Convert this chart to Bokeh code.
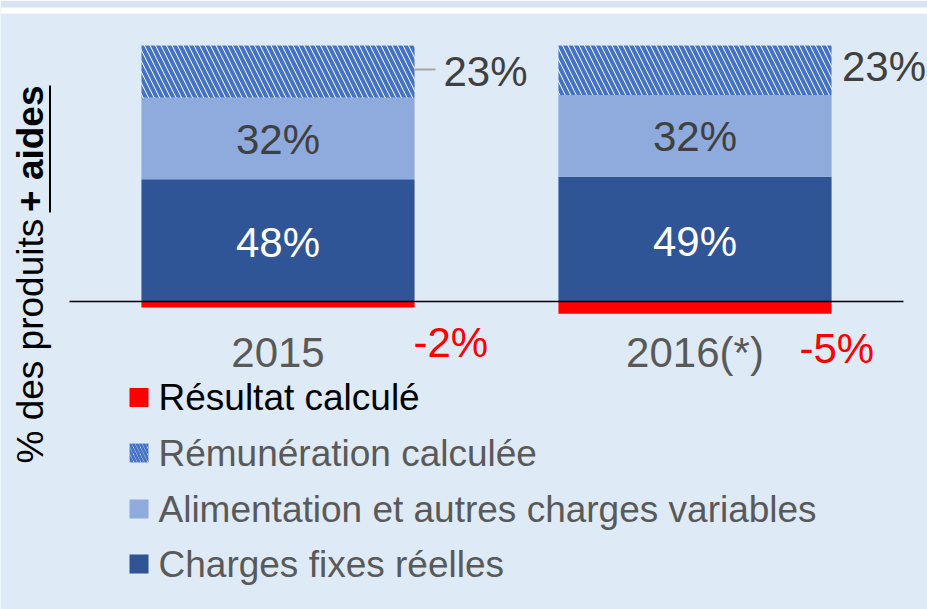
import math
from bokeh.plotting import figure
from bokeh.models import Range1d, ColumnDataSource
from bokeh.core.properties import value
from bokeh.embed import file_html
from bokeh.resources import INLINE

# ---------------- data ----------------
categories = ["2015", "2016(*)"]
charges_fixes = [48, 49]          # Charges fixes réelles
alimentation = [32, 32]           # Alimentation et autres charges variables
remuneration = [23, 23]           # Rémunération calculée
resultat = [-2.4, -4.8]           # Résultat calculé
legend_labels = ["Résultat calculé", "Rémunération calculée",
                 "Alimentation et autres charges variables", "Charges fixes réelles"]
y_title_parts = ["% des produits", "+ aides"]
AXIS_MAX = 100.5                  # value axis maximum (bars are clipped there)

# ---------------- layout / style ----------------
W, H = 927, 609
TOP = 7
PX_PCT = 2.548
ZERO_PX = 301
CAT_PX = 417
LEFT_PX = 69
BAR_W = 0.655
FONT = value("Liberation Sans")
BG = "#DEEAF6"
STRIP = "#D9E3F3"
DARK = "#2F5597"
LIGHT = "#8FAADC"
HATCH = "#4472C4"
RED = "#FF0000"
GRAY = "#595959"
DGRAY = "#404040"


def xd(px):
    return (px - LEFT_PX) / CAT_PX


def yd(py):
    return (ZERO_PX - py) / PX_PCT


p = figure(width=W, height=H, output_backend="svg", toolbar_location=None,
           x_range=Range1d(xd(0), xd(W)), y_range=Range1d(yd(H), yd(TOP)),
           x_axis_type=None, y_axis_type=None,
           min_border_left=0, min_border_right=0, min_border_bottom=0, min_border_top=TOP)
p.grid.visible = False
p.outline_line_color = None
p.background_fill_color = BG
p.border_fill_color = STRIP

# white separator strip below the top band
p.quad(left=[xd(0)], right=[xd(W)], bottom=[yd(13)], top=[yd(TOP)],
       fill_color="white", line_color=None)

xs = [i + 0.5 for i in range(len(categories))]
b1 = [0] * len(xs)
t1 = [a + b for a, b in zip(b1, charges_fixes)]
t2 = [a + b for a, b in zip(t1, alimentation)]
t3 = [a + b for a, b in zip(t2, remuneration)]
t3c = [min(v, AXIS_MAX) for v in t3]

p.vbar(x=xs, width=BAR_W, bottom=b1, top=t1, fill_color=DARK, line_color=None)
p.vbar(x=xs, width=BAR_W, bottom=t1, top=t2, fill_color=LIGHT, line_color=None)
p.vbar(x=xs, width=BAR_W, bottom=t2, top=t3c, fill_color="white", line_color=None,
       hatch_pattern="\\", hatch_color=HATCH, hatch_scale=11, hatch_weight=4)
p.vbar(x=xs, width=BAR_W, bottom=b1, top=resultat, fill_color=RED, line_color=None)

# category axis line at zero
p.segment(x0=[0], y0=[0], x1=[len(categories)], y1=[0], line_color="black", line_width=1.6)

# inside labels
mid1 = [(a + b) / 2 for a, b in zip(b1, t1)]
mid2 = [(a + b) / 2 for a, b in zip(t1, t2)]
p.text(x=xs, y=mid1, text=[f"{v:.0f}%" for v in charges_fixes], text_align="center",
       text_baseline="middle", y_offset=2, text_font=FONT, text_font_size="42px",
       text_color="white")
p.text(x=xs, y=mid2, text=[f"{v:.0f}%" for v in alimentation], text_align="center",
       text_baseline="middle", y_offset=1, text_font=FONT, text_font_size="42px",
       text_color=DGRAY)

# top labels (rémunération)
top_src = ColumnDataSource(dict(x=xs, y=t3c, text=[f"{v:.0f}%" for v in remuneration],
                                dx=[165.5, 147], dy=[26, 21]))
p.text(x="x", y="y", text="text", x_offset="dx", y_offset="dy", source=top_src,
       text_align="left", text_baseline="middle", text_font=FONT,
       text_font_size="42px", text_color=DGRAY)
# leader line for first label
lx0 = xs[0] + BAR_W / 2
p.segment(x0=[lx0], y0=[yd(69)], x1=[lx0 + 21 / CAT_PX], y1=[yd(69)],
          line_color="#A6A6A6", line_width=2)

# result labels
res_src = ColumnDataSource(dict(x=xs, y=resultat, text=[f"{round(v)}%" for v in resultat],
                                dx=[135.5, 104.5], dy=[34.5, 34.5]))
p.text(x="x", y="y", text="text", x_offset="dx", y_offset="dy", source=res_src,
       text_align="left", text_baseline="middle", text_font=FONT,
       text_font_size="42px", text_color=RED)

# category labels
p.text(x=xs, y=[0] * len(xs), text=categories, y_offset=50.5, text_align="center",
       text_baseline="middle", text_font=FONT, text_font_size="42px", text_color=GRAY)

# legend (manual)
rows_px = [397, 452.5, 508.5, 563.5]
lg_y = [yd(r) for r in rows_px]
sq_x = xd(138.5)
p.scatter(x=[sq_x], y=[lg_y[0]], marker="square", size=19, fill_color=RED, line_color=None)
p.scatter(x=[sq_x], y=[lg_y[1]], marker="square", size=19, fill_color="white", line_color=None,
          hatch_pattern="\\", hatch_color=HATCH, hatch_scale=7, hatch_weight=2.8)
p.scatter(x=[sq_x], y=[lg_y[2]], marker="square", size=19, fill_color=LIGHT, line_color=None)
p.scatter(x=[sq_x], y=[lg_y[3]], marker="square", size=19, fill_color=DARK, line_color=None)
lg_src = ColumnDataSource(dict(x=[xd(158)] * 4, y=lg_y, text=legend_labels,
                               color=["black", GRAY, GRAY, GRAY]))
p.text(x="x", y="y", text="text", text_color="color", source=lg_src, text_align="left",
       text_baseline="middle", text_font=FONT, text_font_size="37px")

# y title (rotated, second part bold + underlined)
p.text(x=[xd(30)], y=[yd(463)], text=[y_title_parts[0]], angle=math.pi / 2,
       text_align="left", text_baseline="middle", text_font=FONT,
       text_font_size="37px", text_color="black")
p.text(x=[xd(30)], y=[yd(85)], text=[y_title_parts[1]], angle=math.pi / 2,
       text_align="right", text_baseline="middle", text_font=FONT,
       text_font_size="37px", text_font_style="bold", text_color="black")
p.segment(x0=[xd(49.5)], y0=[yd(85)], x1=[xd(49.5)], y1=[yd(212)],
          line_color="black", line_width=2)

open("out.html", "w").write(file_html(p, INLINE))
